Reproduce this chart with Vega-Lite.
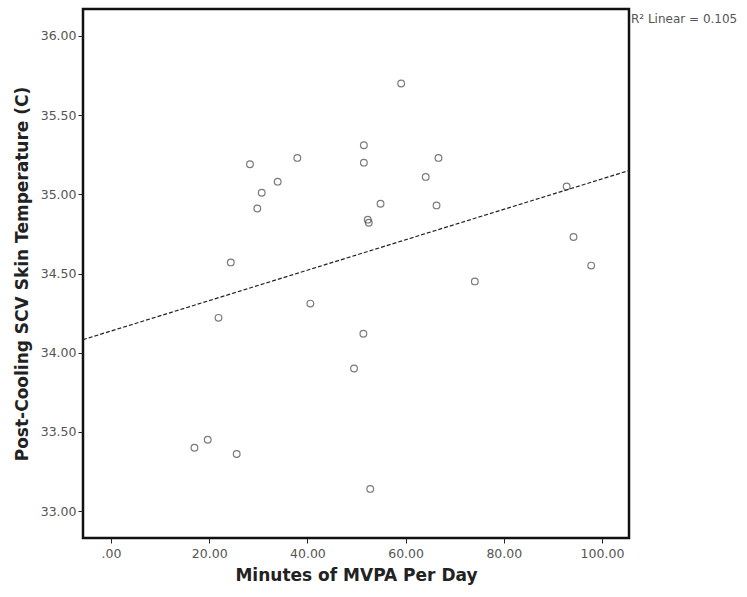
{
  "$schema": "https://vega.github.io/schema/vega-lite/v6.json",
  "autosize": "none",
  "padding": {"left": 83, "top": 9, "right": 118, "bottom": 59},
  "width": 546,
  "height": 529,
  "background": "white",
  "config": {
    "view": {"stroke": "#111", "strokeWidth": 2.5},
    "axis": {"grid": false, "domain": false, "tickColor": "#222", "tickSize": 5, "labelFont": "DejaVu Sans", "labelFontSize": 12.5, "labelColor": "#555", "titleFont": "DejaVu Sans", "titleFontSize": 17, "titleFontWeight": "bold", "titleColor": "#222"}
  },
  "datasets": {
    "pts": [
      {"mvpa": 17.0, "temp": 33.40},
      {"mvpa": 19.7, "temp": 33.45},
      {"mvpa": 21.9, "temp": 34.22},
      {"mvpa": 24.4, "temp": 34.57},
      {"mvpa": 25.6, "temp": 33.36},
      {"mvpa": 28.3, "temp": 35.19},
      {"mvpa": 29.8, "temp": 34.91},
      {"mvpa": 30.7, "temp": 35.01},
      {"mvpa": 33.95, "temp": 35.08},
      {"mvpa": 37.95, "temp": 35.23},
      {"mvpa": 40.6, "temp": 34.31},
      {"mvpa": 49.5, "temp": 33.90},
      {"mvpa": 51.4, "temp": 34.12},
      {"mvpa": 51.5, "temp": 35.31},
      {"mvpa": 51.5, "temp": 35.20},
      {"mvpa": 52.3, "temp": 34.84},
      {"mvpa": 52.5, "temp": 34.82},
      {"mvpa": 52.8, "temp": 33.14},
      {"mvpa": 54.9, "temp": 34.94},
      {"mvpa": 59.1, "temp": 35.70},
      {"mvpa": 64.1, "temp": 35.11},
      {"mvpa": 66.3, "temp": 34.93},
      {"mvpa": 66.7, "temp": 35.23},
      {"mvpa": 74.1, "temp": 34.45},
      {"mvpa": 92.8, "temp": 35.05},
      {"mvpa": 94.2, "temp": 34.73},
      {"mvpa": 97.8, "temp": 34.55}
    ],
    "fit": [
      {"mvpa": -5.7, "temp": 34.082},
      {"mvpa": 105.5, "temp": 35.15}
    ],
    "note": [
      {"mvpa": 105.9, "temp": 36.11, "label": "R² Linear = 0.105"}
    ]
  },
  "layer": [
    {
      "data": {"name": "fit"},
      "mark": {"type": "line", "stroke": "#222", "strokeWidth": 1.2, "strokeDash": [4, 2], "clip": true},
      "encoding": {
        "x": {"field": "mvpa", "type": "quantitative", "scale": {"domain": [-5.7, 105.5], "nice": false, "zero": false},
          "axis": {"values": [0, 20, 40, 60, 80, 100], "labelExpr": "datum.value == 0 ? '.00' : format(datum.value, '.2f')", "title": "Minutes of MVPA Per Day", "labelPadding": 4, "titlePadding": 8}},
        "y": {"field": "temp", "type": "quantitative", "scale": {"domain": [32.83, 36.17], "nice": false, "zero": false},
          "axis": {"values": [33, 33.5, 34, 34.5, 35, 35.5, 36], "format": ".2f", "title": "Post-Cooling SCV Skin Temperature (C)", "labelPadding": 2, "titlePadding": 9}}
      }
    },
    {
      "data": {"name": "pts"},
      "mark": {"type": "point", "shape": "circle", "filled": false, "size": 45, "stroke": "#444", "strokeWidth": 1.2},
      "encoding": {
        "x": {"field": "mvpa", "type": "quantitative"},
        "y": {"field": "temp", "type": "quantitative"}
      }
    },
    {
      "data": {"name": "note"},
      "mark": {"type": "text", "align": "left", "baseline": "middle", "font": "DejaVu Sans", "fontSize": 12, "fill": "#555", "clip": false},
      "encoding": {
        "x": {"field": "mvpa", "type": "quantitative"},
        "y": {"field": "temp", "type": "quantitative"},
        "text": {"field": "label"}
      }
    }
  ]
}
